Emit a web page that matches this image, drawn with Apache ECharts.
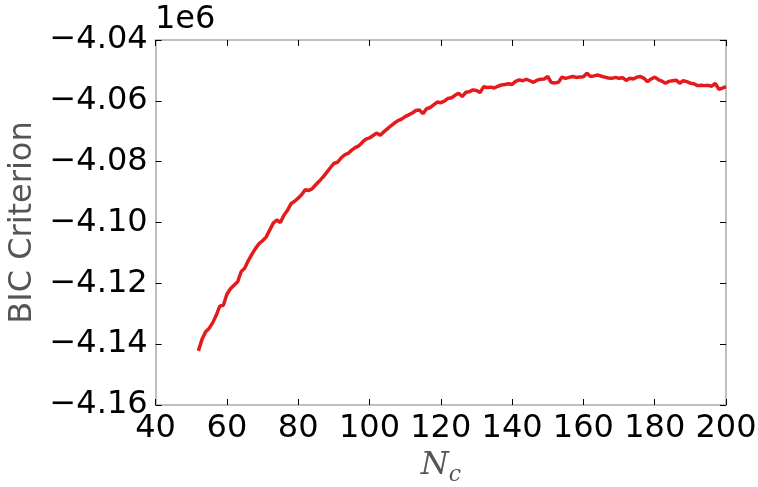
<!DOCTYPE html>
<html>
<head>
<meta charset="utf-8">
<script src="https://cdn.jsdelivr.net/npm/echarts@6/dist/echarts.min.js"></script>
<style>html,body{margin:0;padding:0;background:#fff;}#c{width:758px;height:487px;}</style>
</head>
<body>
<div id="c"></div>
<script>
const nc = [];
for (let n = 52; n <= 200; n++) nc.push(n);
// BIC values (in thousands)
const bicK = [
-4142.2,-4138.5,-4136.0,-4134.8,-4133.0,-4130.5,-4127.5,-4127.2,-4123.6,-4121.8,
-4120.6,-4119.5,-4116.2,-4115.0,-4112.5,-4110.5,-4108.6,-4107.0,-4106.0,-4104.8,
-4102.5,-4100.2,-4099.2,-4100.0,-4097.6,-4096.0,-4093.8,-4093.0,-4092.0,-4090.8,
-4089.2,-4089.5,-4088.8,-4087.5,-4086.3,-4085.0,-4083.5,-4082.0,-4080.6,-4080.2,
-4078.8,-4077.8,-4077.3,-4076.2,-4075.4,-4074.8,-4073.6,-4072.6,-4072.2,-4071.4,
-4070.6,-4071.3,-4070.2,-4069.2,-4068.2,-4067.3,-4066.5,-4066.0,-4065.2,-4064.6,
-4064.0,-4063.2,-4063.0,-4064.2,-4062.6,-4062.2,-4061.3,-4060.4,-4060.6,-4060.1,
-4059.2,-4059.0,-4058.2,-4057.5,-4058.6,-4057.2,-4057.0,-4056.4,-4056.6,-4057.3,
-4055.4,-4055.6,-4055.5,-4055.8,-4055.2,-4054.8,-4054.6,-4054.4,-4054.6,-4053.6,
-4053.1,-4053.4,-4052.9,-4053.4,-4053.9,-4053.2,-4052.9,-4052.8,-4052.0,-4054.0,
-4054.1,-4053.9,-4052.2,-4052.6,-4052.3,-4052.0,-4052.3,-4052.2,-4052.1,-4050.9,
-4052.0,-4051.8,-4051.5,-4051.9,-4052.2,-4052.5,-4052.6,-4052.3,-4052.6,-4052.4,
-4053.3,-4052.6,-4052.8,-4052.2,-4052.0,-4052.6,-4053.7,-4052.8,-4052.2,-4053.0,
-4053.5,-4054.2,-4053.6,-4053.4,-4053.2,-4054.2,-4053.4,-4053.7,-4054.2,-4054.4,
-4055.0,-4054.9,-4055.0,-4054.9,-4055.2,-4054.3,-4056.2,-4055.8,-4055.3
];
const xTicks = [40, 60, 80, 100, 120, 140, 160, 180, 200];
const yTicks = [-4.16, -4.14, -4.12, -4.10, -4.08, -4.06, -4.04];

const data = nc.map((n, i) => [n, bicK[i] * 1000]);
const FONT = 'DejaVu Sans';
const frame = { show: true, lineStyle: { color: '#bfbfbf', width: 2 } };
const tick = { show: true, inside: true, length: 6, lineStyle: { color: '#000', width: 1 } };

const chart = echarts.init(document.getElementById('c'), null, { renderer: 'canvas' });
chart.setOption({
  animation: false,
  backgroundColor: '#fff',
  grid: { left: 155.6, right: 32, top: 40, bottom: 82, containLabel: false, outerBoundsMode: 'none' },
  xAxis: [
    { type: 'value', min: xTicks[0], max: xTicks[xTicks.length - 1], interval: 20,
      axisLine: frame, axisTick: tick, splitLine: { show: false },
      axisLabel: { fontFamily: FONT, fontSize: 32, color: '#000', margin: 8 },
      name: '{n|N}{c|c}', nameLocation: 'middle', nameGap: 36,
      nameTextStyle: { rich: {
        n: { fontFamily: 'DejaVu Serif', fontStyle: 'italic', fontSize: 32, color: '#555' },
        c: { fontFamily: 'DejaVu Serif', fontStyle: 'italic', fontSize: 22, color: '#555', verticalAlign: 'bottom', padding: [18, 0, 0, 0] } } } },
    { type: 'value', position: 'top', min: 40, max: 200, interval: 20,
      axisLine: frame, axisTick: tick, axisLabel: { show: false }, splitLine: { show: false } }
  ],
  yAxis: [
    { type: 'value', min: yTicks[0] * 1e6, max: yTicks[yTicks.length - 1] * 1e6, interval: 20000,
      axisLine: frame, axisTick: tick, splitLine: { show: false },
      axisLabel: { fontFamily: FONT, fontSize: 32, color: '#000', margin: 8,
        formatter: v => (v < 0 ? '\u2212' : '') + Math.abs(v / 1e6).toFixed(2) },
      name: 'BIC Criterion', nameLocation: 'middle', nameGap: 105, nameRotate: 90,
      nameTextStyle: { fontFamily: FONT, fontSize: 32, color: '#555' } },
    { type: 'value', position: 'right', min: -4160000, max: -4040000, interval: 20000,
      axisLine: frame, axisTick: tick, axisLabel: { show: false }, splitLine: { show: false } }
  ],
  graphic: [
    { type: 'text', left: 155, top: 4, style: { text: '1e6', fontFamily: FONT, fontSize: 32, fill: '#000' } }
  ],
  series: [{
    type: 'line', data: data, showSymbol: false, symbol: 'none',
    lineStyle: { color: '#e41a1c', width: 3.5 }, xAxisIndex: 0, yAxisIndex: 0
  }]
});
</script>
</body>
</html>
